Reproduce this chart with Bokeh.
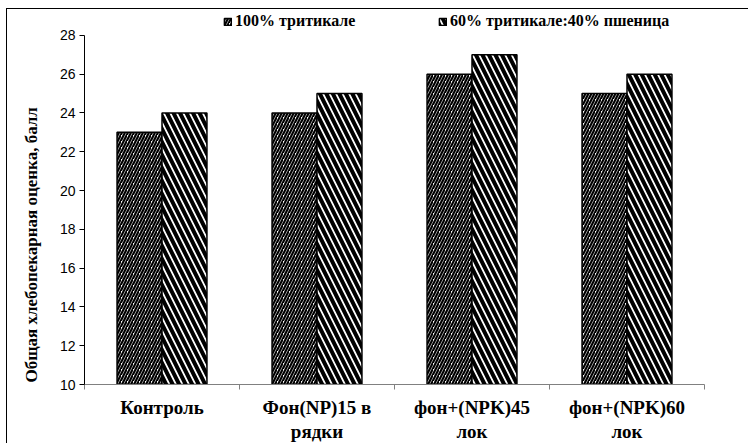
from bokeh.plotting import figure
from bokeh.models import (ColumnDataSource, FixedTicker, Legend, LegendItem,
                          Title, Range1d)
from bokeh.embed import file_html
from bokeh.resources import INLINE

# Data
categories = ["Контроль", "Фон(NP)15 в\nрядки", "фон+(NPK)45\nлок", "фон+(NPK)60\nлок"]
series_names = ["100% тритикале", "60% тритикале:40% пшеница"]
triticale_100 = [23, 24, 26, 25]
triticale_60_wheat_40 = [24, 25, 27, 26]
y_ticks = [10, 12, 14, 16, 18, 20, 22, 24, 26, 28]
y_title = "Общая хлебопекарная оценка, балл"

SERIF = "Liberation Serif"
SANS = "Liberation Sans"

# Geometry of the plotting area (pixels)
W, H = 742, 435
MB_LEFT, MB_RIGHT, MB_TOP, MB_BOTTOM = 75, 45, 1, 58
AXIS_PX = 351                       # height of the 10..28 scale
frame_h = H - MB_TOP - MB_BOTTOM
px_per_unit = AXIS_PX / (y_ticks[-1] - y_ticks[0])
# headroom above the last tick holds the legend row
y_top = y_ticks[-1] + (frame_h - AXIS_PX) / px_per_unit

n = len(categories)
centers = [i + 0.5 for i in range(n)]
bar_w = 0.29
src = ColumnDataSource(dict(
    x1=[c - bar_w / 2 for c in centers],
    x2=[c + bar_w / 2 for c in centers],
    a=triticale_100,
    b=triticale_60_wheat_40,
))

p = figure(width=W, height=H,
           x_range=Range1d(0, n), y_range=Range1d(y_ticks[0], y_top),
           output_backend="svg", toolbar_location=None,
           min_border_left=MB_LEFT, min_border_right=MB_RIGHT,
           min_border_top=MB_TOP, min_border_bottom=MB_BOTTOM)
# chart-area frame: thin rule along the left and top edges
p.styles = {"margin-left": "6px", "margin-top": "8px",
            "border-left": "1.5px solid black", "border-top": "1.5px solid black"}
p.outline_line_color = None
p.xgrid.visible = False
p.ygrid.visible = False
p.background_fill_color = "white"
p.border_fill_color = "white"

r1 = p.vbar(x="x1", top="a", bottom=y_ticks[0], width=bar_w, source=src,
            fill_color="white", line_color="black", line_width=1.5,
            hatch_pattern="/", hatch_scale=6, hatch_weight=2.2, hatch_color="black")
r2 = p.vbar(x="x2", top="b", bottom=y_ticks[0], width=bar_w, source=src,
            fill_color="white", line_color="black", line_width=1.5,
            hatch_pattern="\\", hatch_scale=13, hatch_weight=4, hatch_color="black")

# Y axis (line limited to the 10..28 scale)
ya = p.yaxis[0]
ya.ticker = FixedTicker(ticks=y_ticks)
ya.bounds = (y_ticks[0], y_ticks[-1])
ya.axis_line_color = "black"
ya.axis_line_width = 1
ya.major_tick_in = 0
ya.major_tick_out = 5
ya.major_tick_line_color = "black"
ya.minor_tick_line_color = None
ya.major_label_text_font = SANS
ya.major_label_text_font_size = "14px"
ya.major_label_text_color = "black"
ya.major_label_standoff = 4

# X axis: labels centred under each group, ticks between groups
xa = p.xaxis[0]
xa.ticker = FixedTicker(ticks=centers, minor_ticks=list(range(n + 1)))
xa.major_label_overrides = {c: lab for c, lab in zip(centers, categories)}
xa.axis_line_color = "#808080"
xa.axis_line_width = 1.2
xa.major_tick_line_color = None
xa.major_tick_in = 0
xa.major_tick_out = 0
xa.minor_tick_line_color = "#808080"
xa.minor_tick_in = 0
xa.minor_tick_out = 5
xa.major_label_text_font = SERIF
xa.major_label_text_font_style = "bold"
xa.major_label_text_font_size = "19px"
xa.major_label_text_line_height = 1.15
xa.major_label_text_color = "black"
xa.major_label_standoff = 7

# Y axis title, set low along the axis
p.add_layout(Title(text=y_title, align="left", offset=2, standoff=28,
                   vertical_align="top",
                   text_font=SERIF, text_font_style="bold", text_font_size="17px",
                   text_color="black"), "left")

# Legend row above the bars, inside the plotting area
legend = Legend(items=[LegendItem(label=series_names[0], renderers=[r1]),
                       LegendItem(label=series_names[1], renderers=[r2])],
                orientation="horizontal",
                location=(139, int(AXIS_PX) + 3),
                padding=0, margin=0, spacing=70,
                glyph_width=9, glyph_height=9, label_standoff=3,
                label_width=133, label_height=16,
                border_line_color=None, background_fill_alpha=0,
                label_text_font=SERIF, label_text_font_style="bold",
                label_text_font_size="16px", label_text_color="black")
p.add_layout(legend, "center")

open("out.html", "w").write(file_html(p, INLINE))
